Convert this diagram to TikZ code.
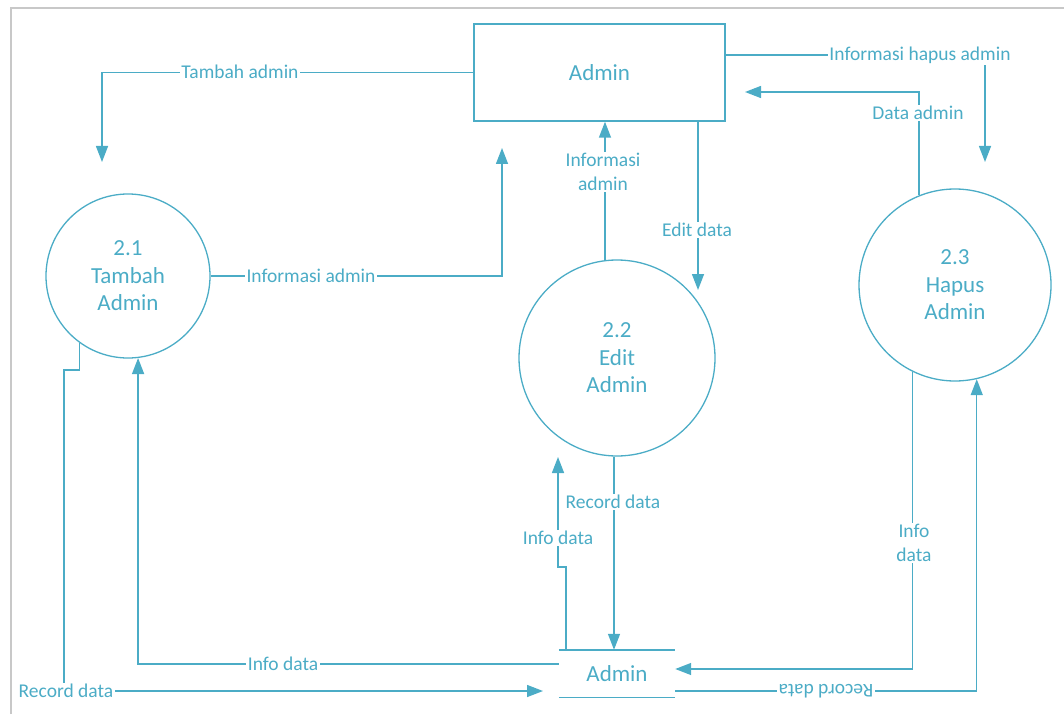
\documentclass[tikz,border=0pt]{standalone}
\usepackage{fontspec}
\setmainfont{Carlito}
\usetikzlibrary{arrows.meta}
\definecolor{dfd}{HTML}{4BACC6}
\definecolor{frame}{HTML}{C8C8C8}
\tikzset{
  flow/.style={draw=dfd, line width=1.4pt, -{Triangle[length=16pt,width=12pt]}},
  lbl/.style={fill=white, text=dfd, font=\fontsize{19.5}{23.5}\selectfont, inner sep=1.5pt, align=center},
  proc/.style={circle, draw=dfd, line width=1.3pt, text=dfd, align=center,
    font=\fontsize{23}{27.5}\selectfont, inner sep=0pt},
  entity/.style={draw=dfd, line width=1.4pt, text=dfd, font=\fontsize{23}{27.5}\selectfont,
    minimum width=251pt, minimum height=97pt},
  store/.style={text=dfd, font=\fontsize{23}{27.5}\selectfont, minimum width=116pt, minimum height=47pt},
  storeline/.style={draw=dfd, line width=1.4pt},
}
\begin{document}
\begin{tikzpicture}[x=1pt, y=-1pt]
\useasboundingbox (0,0) rectangle (1064,714);
% outer frame
\draw[frame, line width=2pt] (11,714) -- (11,8) -- (1064,8);

% external entity, processes and data store
\node[entity] (ext) at (599.5,72.5) {Admin};
\node[proc, minimum size=164pt] (p1) at (128,276) {2.1\\Tambah\\Admin};
\node[proc, minimum size=196pt] (p2) at (617,358) {2.2\\Edit\\Admin};
\node[proc, minimum size=192pt] (p3) at (955,285) {2.3\\Hapus\\Admin};
\node[store] (ds) at (617,673.5) {Admin};
\draw[storeline] (ds.north west) -- (ds.north east);
\draw[storeline] (ds.south west) -- (ds.south east);

% free ends and bends
\coordinate (c1) at (102,162);
\coordinate (c2) at (502,148);
\coordinate (c4) at (698,290);
\coordinate (c5) at (985,162);
\coordinate (c6) at (745,92);
\coordinate (b7) at (64,370);
\coordinate (c7) at (543,691);
\coordinate (b10) at (558,567);
\coordinate (c10) at (558,457);

% flows
\draw[flow] (ext.west) -| (c1);
\draw[flow] (p1.east) -| (c2);
\draw[flow] (p2.97.6) -- (p2.97.6 |- ext.south);
\draw[flow] (ext.south -| c4) -- (c4);
\draw[flow] ([yshift=17.5pt]ext.east) -| (c5);
\draw[flow] (p3.112.7) |- (c6);
\draw[flow] (p1.234.2) |- (b7) |- (c7);
\draw[flow] ([yshift=9.5pt]ds.west) -| (p1.277.7);
\draw[flow] ([xshift=-3pt]p2.south) -- ([xshift=-3pt]ds.north);
\draw[flow] ([xshift=7pt]ds.north west) |- (b10) -- (c10);
\draw[flow] (p3.244.7) |- ([yshift=4.5pt]ds.east);
\draw[flow] ([yshift=-17.5pt]ds.east) -| (p3.283.9);

% flow labels
\node[lbl] (l1) at (240,72) {Tambah admin};
\node[lbl] (l2) at (311,276) {Informasi admin};
\node[lbl] (l3) at (603,172) {Informasi\\admin};
\node[lbl] (l4) at (697,230) {Edit data};
\node[lbl] (l5) at (920,55) {Informasi hapus admin};
\node[lbl] (l6) at (918,113) {Data admin};
\node[lbl] (l7) at (66,691) {Record data};
\node[lbl] (l8) at (283,664) {Info data};
\node[lbl] (l9) at (613,502) {Record data};
\node[lbl] (l10) at (558,538) {Info data};
\node[lbl] (l11) at (914,543) {Info\\data};
\node[lbl, rotate=180] (l12) at (826,691) {Record data};
\end{tikzpicture}
\end{document}
